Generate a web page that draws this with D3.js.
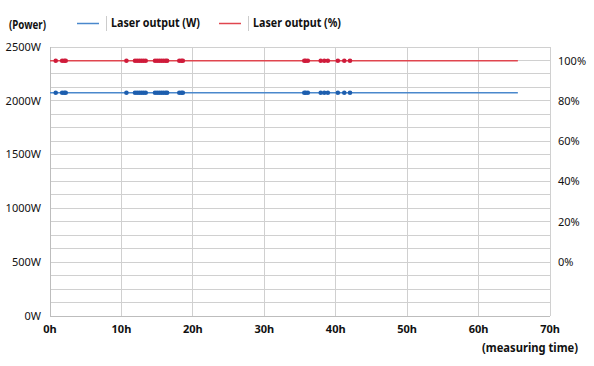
<!DOCTYPE html>
<html><head><meta charset="utf-8">
<script src="https://cdn.jsdelivr.net/npm/d3@7"></script>
<style>body{margin:0;background:#fff;}svg{display:block;font-family:"Noto Sans",sans-serif;}
.nb{font-weight:bold;}</style>
</head><body><svg id="c" width="594" height="366"></svg>
<script>
const measureHours = [0.8, 1.7, 2.0, 2.2, 10.7, 11.9, 12.2, 12.5, 12.8, 13.1, 13.4, 14.7, 15.0, 15.3, 15.6, 15.9, 16.2, 16.4, 18.1, 18.4, 18.6, 35.6, 35.8, 36.1, 37.9, 38.4, 38.9, 40.3, 41.2, 42.0];
const lineHours = [0, 65.5];
const outputW = 2075;
const outputPct = 100;
const xTicks = [0, 10, 20, 30, 40, 50, 60, 70];
const wTicks = [0, 500, 1000, 1500, 2000, 2500];
const pctTicks = [0, 20, 40, 60, 80, 100];
const seriesNames = ["Laser output (W)", "Laser output (%)"];

const svg = d3.select("#c");
const L = 50, R = 550, T = 47, B = 316;
const x = d3.scaleLinear().domain([0, 70]).range([L, R]);
const yW = d3.scaleLinear().domain([0, 2500]).range([B, T]);
const yP = d3.scaleLinear().domain([0, 100]).range([yW(500), 60.7]);

// grid
const g = svg.append("g");
g.selectAll("line.h").data(d3.range(125, 2501, 125)).enter().append("line")
  .attr("x1", L).attr("x2", R).attr("y1", d => yW(d)).attr("y2", d => yW(d))
  .attr("stroke", "#d0d0d0").attr("stroke-width", 1).attr("shape-rendering", "crispEdges");
g.selectAll("line.v").data(xTicks.slice(1)).enter().append("line")
  .attr("x1", d => x(d)).attr("x2", d => x(d)).attr("y1", T).attr("y2", B)
  .attr("stroke", "#d0d0d0").attr("stroke-width", 1).attr("shape-rendering", "crispEdges");
// axes lines
svg.append("line").attr("x1", L).attr("x2", L).attr("y1", T).attr("y2", B).attr("stroke", "#bdbdbd").attr("shape-rendering", "crispEdges");
svg.append("line").attr("x1", L).attr("x2", R).attr("y1", B).attr("y2", B).attr("stroke", "#bdbdbd").attr("shape-rendering", "crispEdges");

// left axis labels
svg.append("g").selectAll("text").data(wTicks).enter().append("text")
  .attr("x", 41).attr("y", d => yW(d)).attr("dy", "0.35em").attr("text-anchor", "end")
  .attr("font-size", 11).attr("fill", "#111").text(d => d + "W");
// right axis labels
svg.append("g").selectAll("text").data(pctTicks).enter().append("text")
  .attr("x", 558).attr("y", d => yP(d)).attr("dy", "0.35em").attr("text-anchor", "start")
  .attr("font-size", 11).attr("fill", "#111").text(d => d + "%");
// x axis labels
svg.append("g").selectAll("text").data(xTicks).enter().append("text")
  .attr("x", d => x(d)).attr("y", 329).attr("dy", "0.35em").attr("text-anchor", "middle")
  .attr("class", "nb").attr("font-size", 11).attr("fill", "#111").text(d => d + "h");

svg.append("text").attr("x", 482).attr("y", 348).attr("dy", "0.35em")
  .attr("textLength", 96).attr("lengthAdjust", "spacingAndGlyphs")
  .attr("class", "nb").attr("font-size", 12.5).attr("fill", "#111").text("(measuring time)");
svg.append("text").attr("x", 9).attr("y", 25).attr("dy", "0.35em")
  .attr("textLength", 37).attr("lengthAdjust", "spacingAndGlyphs")
  .attr("class", "nb").attr("font-size", 12.5).attr("fill", "#111").text("(Power)");

// series
const series = [
  {name: seriesNames[0], y: () => yW(outputW), line: "#4a88cc", dot: "#1d5eae"},
  {name: seriesNames[1], y: () => yP(outputPct), line: "#e0464f", dot: "#cf1b3b"}
];
series.forEach(s => {
  svg.append("path").attr("d", d3.line().x(d => x(d)).y(s.y)(lineHours))
    .attr("stroke", s.line).attr("stroke-width", 1.5).attr("fill", "none");
  svg.append("g").selectAll("circle").data(measureHours).enter().append("circle")
    .attr("cx", d => x(d)).attr("cy", s.y).attr("r", 2.3).attr("fill", s.dot);
});

// legend
const legX = [77, 219];
const legW = [89, 88];
series.forEach((s, i) => {
  const lx = legX[i];
  svg.append("line").attr("x1", lx).attr("x2", lx + 22).attr("y1", 23.5).attr("y2", 23.5)
    .attr("stroke", s.line).attr("stroke-width", 1.5);
  svg.append("line").attr("x1", lx + 29.5).attr("x2", lx + 29.5).attr("y1", 16).attr("y2", 31)
    .attr("stroke", "#ccc").attr("shape-rendering", "crispEdges");
  svg.append("text").attr("x", lx + 34).attr("y", 23).attr("dy", "0.35em")
    .attr("textLength", legW[i]).attr("lengthAdjust", "spacingAndGlyphs")
    .attr("class", "nb").attr("font-size", 12.5).attr("fill", "#111").text(s.name);
});
</script></body></html>
